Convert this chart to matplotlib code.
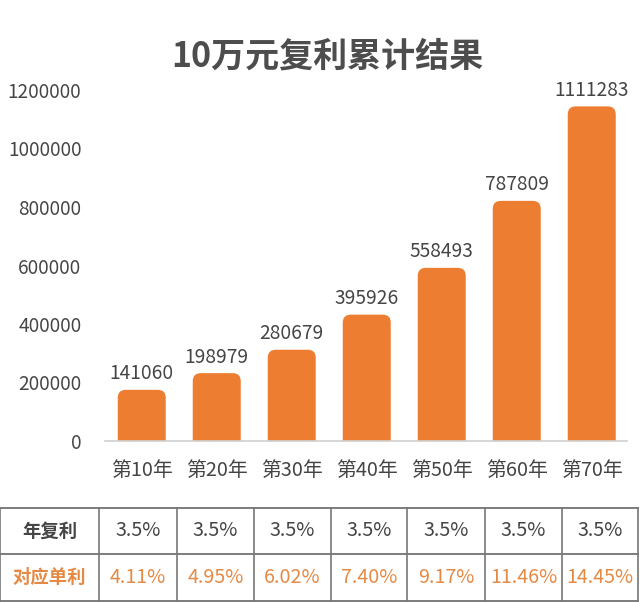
import matplotlib
matplotlib.use('Agg')
import matplotlib.pyplot as plt
from matplotlib.patches import FancyBboxPatch

plt.rcParams['font.family'] = ['Noto Sans CJK SC', 'DejaVu Sans']

BAR = "#ED7D31"
TXT = "#454545"
ORANGE_TXT = "#E58A45"

# data
years = ['第10年', '第20年', '第30年', '第40年', '第50年', '第60年', '第70年']
totals = [141060, 198979, 280679, 395926, 558493, 787809, 1111283]
# bar tops as drawn in the picture (they sit a bit above the labelled values)
bar_heights = [175000, 232000, 312000, 432000, 592000, 821000, 1144000]
yticks = [0, 200000, 400000, 600000, 800000, 1000000, 1200000]

row_names = ['年复利', '对应单利']
compound_rates = ['3.5%'] * 7
simple_rates = ['4.11%', '4.95%', '6.02%', '7.40%', '9.17%', '11.46%', '14.45%']

W, H = 640, 602
fig = plt.figure(figsize=(W / 100, H / 100), dpi=100)
fig.patch.set_facecolor('white')

ax = fig.add_axes([105 / W, 1 - 441 / H, 522 / W, 351 / H])
ax.set_xlim(-0.49, 6.47)
ax.set_ylim(0, 1200000)

px_x = 6.96 / 522          # x data units per pixel
px_y = 1200000 / 351       # y data units per pixel
width = 48 * px_x
r = 8 * px_x
aspect = px_y / px_x
for i, h in enumerate(bar_heights):
    p = FancyBboxPatch((i - width / 2, -10 * px_y), width, h + 10 * px_y,
                       boxstyle=f"round,pad=0,rounding_size={r}",
                       mutation_aspect=aspect, facecolor=BAR, edgecolor='none')
    ax.add_patch(p)
    ax.annotate(f'{totals[i]}', xy=(i, h), xytext=(0, 4), textcoords='offset points',
                ha='center', va='bottom', fontsize=13.8, color=TXT)

ax.set_yticks(yticks)
ax.set_yticklabels([str(v) for v in yticks], fontsize=13.7, color=TXT)
ax.set_xticks(range(len(years)))
ax.set_xticklabels(years, fontsize=14.3, color=TXT)
ax.tick_params(axis='y', length=0, pad=17)
ax.tick_params(axis='x', length=0, pad=14)
for s in ['top', 'right', 'left']:
    ax.spines[s].set_visible(False)
ax.spines['bottom'].set_color('#d0d0d0')
ax.spines['bottom'].set_linewidth(1.2)

fig.text(327 / W, 1 - 56 / H, '10万元复利累计结果', ha='center', va='center',
         fontsize=24.5, fontweight='bold', color='#4d4d4d')

# table below the chart, drawn in pixel coordinates
tab = fig.add_axes([0, 0, 1, 1])
tab.set_xlim(0, W)
tab.set_ylim(H, 0)
tab.axis('off')
col_edges = [0, 99, 177, 254, 331, 407, 485, 562, 638]
row_edges = [508, 554, 601]
for y in row_edges:
    tab.plot([col_edges[0], col_edges[-1]], [y, y], color='#666666', lw=1.2)
for x in col_edges:
    tab.plot([x, x], [row_edges[0], row_edges[-1]], color='#777777', lw=1.2)

rows = [compound_rates, simple_rates]
colors = [TXT, ORANGE_TXT]
for r_i, (name, vals) in enumerate(zip(row_names, rows)):
    yc = (row_edges[r_i] + row_edges[r_i + 1]) / 2
    tab.text((col_edges[0] + col_edges[1]) / 2, yc, name, ha='center', va='center',
             fontsize=13.2, fontweight='bold', color=colors[r_i])
    for c, v in enumerate(vals):
        xc = (col_edges[c + 1] + col_edges[c + 2]) / 2
        tab.text(xc, yc, v, ha='center', va='center', fontsize=14.2, color=colors[r_i])

fig.savefig('out.png', dpi=100)
